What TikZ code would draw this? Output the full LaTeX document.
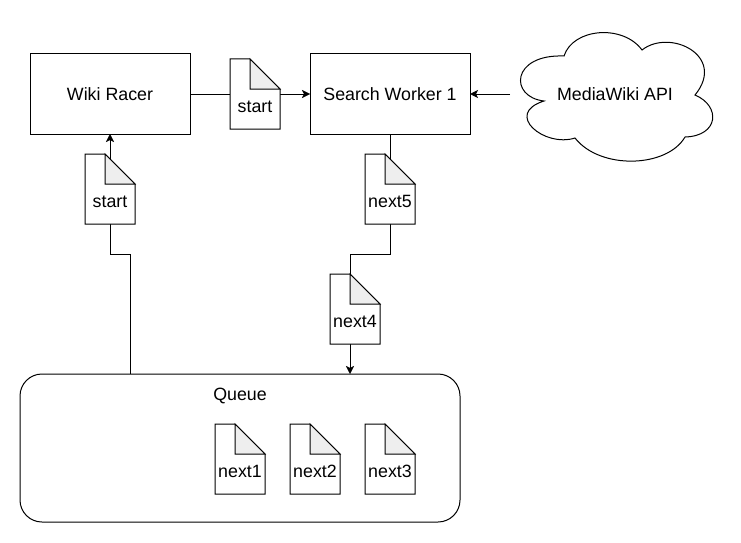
\documentclass[tikz,border=0pt]{standalone}
\usepackage{fontspec}
\setmainfont{Liberation Sans}
\usetikzlibrary{positioning,calc,arrows.meta,backgrounds}

\begin{document}
\begin{tikzpicture}[
        x=1pt, y=1pt, line width=1pt,
        box/.style={rectangle, draw=black, minimum width=160pt, minimum height=80pt, outer sep=0pt, font=\fontsize{17.8}{20}\selectfont, align=center},
        doc/.style={rectangle, inner sep=0pt, outer sep=0pt, text width=50pt, text height=53pt, text depth=17pt, font=\fontsize{17.8}{20}\selectfont, align=center,
          append after command={\pgfextra{\let\thisdoc\tikzlastnode
            \begin{pgfinterruptpath}
              \filldraw [fill=white] (\thisdoc.north west) -- ([xshift=-30pt]\thisdoc.north east) -- ([yshift=-30pt]\thisdoc.north east) -- (\thisdoc.south east) -- (\thisdoc.south west) -- cycle;
              \filldraw [fill=foldgray] ([xshift=-30pt]\thisdoc.north east) -- ([shift={(-30pt,-30pt)}]\thisdoc.north east) -- ([yshift=-30pt]\thisdoc.north east) -- cycle;
            \end{pgfinterruptpath}}}},
        queuebox/.style={rectangle, draw=black, rounded corners=22pt, inner sep=0pt, outer sep=0pt, text width=440pt, text height=26.7pt, text depth=121.3pt, font=\fontsize{17.8}{20}\selectfont, align=center},
        cloudnode/.style={rectangle, minimum width=210pt, minimum height=80pt, outer sep=0pt, font=\fontsize{17.8}{20}\selectfont, align=center},
        arrow/.style={-{Stealth[length=8pt,width=8pt,inset=2pt]}},
      ]
      \definecolor{foldgray}{HTML}{EEEEEE}
      \useasboundingbox (0,0) rectangle (741,-543);
      \node [box] (wikiracer) at (110,-94) {Wiki Racer};
      \node [box, right=120pt of wikiracer] (search) {Search Worker 1};
      \node [cloudnode, right=40pt of search] (api) {MediaWiki API};
      \node [doc, right=40pt of wikiracer] (startright) {start};
      \node [doc, below=20pt of wikiracer] (startup) {start};
      \node [doc, below=20pt of search] (nextfive) {next5};
      \node [doc, below=50pt of nextfive, xshift=-35pt] (nextfour) {next4};
      \node [queuebox] (queue) at (240,-448) {Queue};
      \node [doc] (nextone) at ($(queue.center)+(0,-11)$) {next1};
      \node [doc, right=25pt of nextone] (nexttwo) {next2};
      \node [doc, right=25pt of nexttwo] (nextthree) {next3};
      \coordinate [below=30pt of startup] (upbend);
      \coordinate [below=30pt of nextfive] (downbend);
      \coordinate (queueout) at ($(queue.north)+(-110,0)$);
      \coordinate (queuein) at ($(queue.north)+(110,0)$);
      \draw [shift={(api.center)}] (-51,38)
        .. controls (-42,66) and (8,70) .. (27,44)
        .. controls (55,66) and (112,38) .. (80,-1)
        .. controls (106,-12) and (104,-42) .. (70,-43)
        .. controls (52,-74) and (-15,-76) .. (-40,-44)
        .. controls (-70,-54) and (-112,-20) .. (-71,-7)
        .. controls (-106,-3) and (-104,40) .. (-51,38) -- cycle;
      \begin{scope}[on background layer]
        \draw [arrow] (wikiracer) -- (search);
        \draw [arrow] (queueout) |- (upbend) -- (wikiracer);
        \draw [arrow] (search) -- (downbend) -| (queuein);
      \end{scope}
      \draw [arrow] (api.west) -- (search.east);
    \end{tikzpicture}
\end{document}
